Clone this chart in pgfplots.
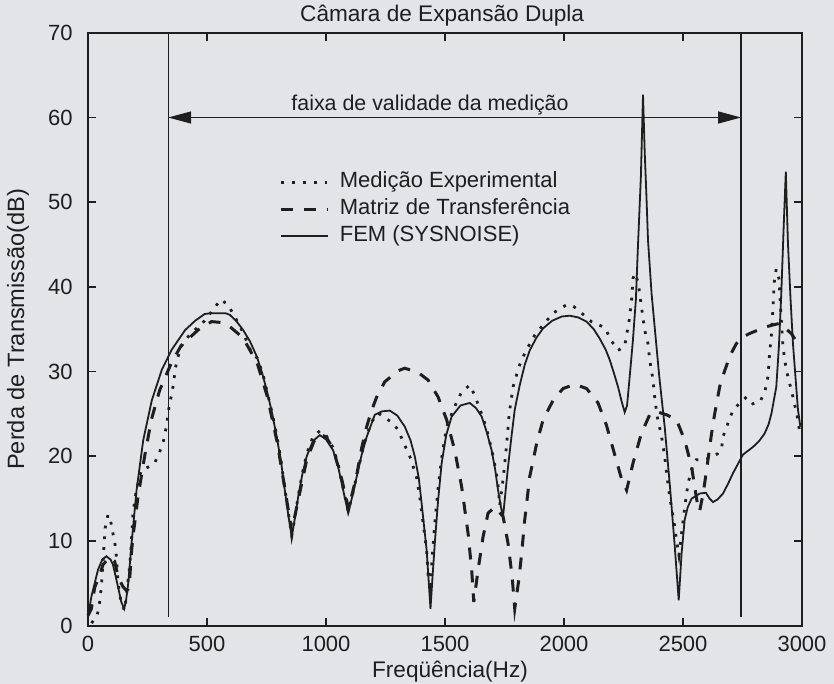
\documentclass[border=0pt]{standalone}
\usepackage{fontspec}
\setmainfont{Liberation Sans}
\usepackage{pgfplots}
\usepackage{pgfplotstable}
\pgfplotsset{compat=1.18}
\usetikzlibrary{arrows.meta}
\definecolor{bg}{RGB}{226,228,232}
\definecolor{ink}{RGB}{30,30,30}

\pgfplotstableread{
f tl
15 0.3
25 0.7
36 1.0
46 2.1
56 4.5
64 8.0
72 11.5
84 13.1
95 12.4
104 11.0
112 10.0
120 8.0
126 5.0
140 2.6
154 1.8
165 4.5
175 7.0
182 9.7
189 13.3
203 16.0
224 18.4
245 18.6
280 19.2
301 20.5
318 21.9
329 23.5
343 26.3
353 27.4
361 29.0
367 30.4
385 32.5
406 33.7
448 34.9
490 36.0
525 37.3
558 38.5
588 37.9
620 36.3
652 34.6
687 32.2
711 31.6
735 29.7
751 27.8
772 25.3
793 22.5
812 19.3
827 16.2
842 13.3
856 10.6
870 12.9
883 15.3
900 17.9
919 20.3
945 22.3
974 23.0
1000 22.5
1030 21.0
1050 19.2
1066 17.0
1080 15.2
1093 13.5
1110 15.3
1129 17.7
1150 20.3
1171 22.5
1195 24.2
1219 25.1
1261 24.3
1282 23.9
1303 23.1
1331 21.3
1352 20.0
1380 17.6
1394 15.2
1408 12.1
1423 8.9
1430 5.5
1437 4.8
1445 7.5
1457 12.1
1472 16.5
1486 19.8
1507 23.5
1541 25.9
1570 27.6
1604 28.4
1625 27.2
1654 25.0
1675 23.2
1696 20.8
1713 18.5
1723 16.5
1730 14.2
1745 17.5
1758 21.1
1770 25.1
1786 28.2
1810 30.5
1822 31.4
1849 32.9
1877 34.3
1912 35.5
1954 36.9
2011 37.9
2040 37.7
2066 37.1
2115 35.9
2171 35.2
2200 33.6
2227 32.5
2255 33.0
2274 36.1
2284 38.5
2290 41.0
2297 41.6
2311 40.6
2318 39.2
2332 36.3
2339 34.9
2353 33.3
2360 31.4
2374 29.0
2381 27.0
2391 24.8
2401 23.5
2410 22.3
2423 20.0
2433 17.6
2444 15.2
2456 13.3
2465 11.7
2475 9.7
2483 8.3
2494 10.9
2507 13.9
2521 16.8
2540 18.8
2556 19.6
2584 19.6
2620 19.8
2645 20.3
2662 20.9
2668 22.3
2689 23.9
2708 25.3
2738 26.3
2767 27.0
2794 26.2
2822 26.4
2843 27.5
2857 29.4
2864 32.2
2872 34.5
2876 36.5
2881 39.2
2885 41.2
2892 42.1
2903 41.0
2906 39.6
2913 36.1
2920 32.9
2934 30.2
2948 28.6
2962 27.0
2974 25.5
2983 24.3
2990 22.9
}\medicao

\pgfplotstableread{
f tl
0 1.2
14 2.0
28 4.5
49 6.0
63 7.2
91 8.1
112 7.6
126 5.8
147 4.6
160 4.2
168 4.3
175 5.4
182 8.5
189 10.5
210 15.2
238 20.0
266 24.3
301 27.8
350 31.0
392 33.1
462 34.9
519 35.9
560 35.8
588 35.5
630 34.5
655 33.8
711 31.0
754 27.0
796 21.5
831 15.5
856 11.2
883 14.8
919 19.6
950 21.8
974 22.6
1000 22.3
1030 20.9
1066 17.3
1095 13.8
1129 17.8
1150 21.0
1171 23.5
1190 25.3
1213 27.0
1247 28.8
1303 30.1
1331 30.4
1387 29.9
1429 29.0
1471 27.0
1507 24.3
1541 20.7
1570 16.4
1597 10.9
1612 6.6
1621 2.8
1639 6.6
1660 10.5
1681 13.3
1709 14.0
1744 12.9
1765 9.7
1782 5.8
1793 2.0
1810 5.4
1822 8.5
1835 12.5
1856 17.6
1885 21.5
1912 24.3
1954 26.6
1996 28.0
2045 28.5
2095 28.0
2143 26.3
2178 23.7
2213 20.2
2241 17.4
2263 16.0
2290 19.2
2325 22.7
2360 24.9
2386 25.3
2431 24.9
2473 24.3
2507 21.9
2536 18.8
2549 16.4
2563 14.0
2570 13.5
2587 16.0
2605 19.6
2620 22.7
2633 25.0
2654 28.2
2668 29.5
2696 31.8
2724 33.3
2752 34.1
2780 34.5
2850 35.3
2906 35.7
2955 34.5
2983 33.3
2995 33.0
}\matriz

\pgfplotstableread{
f tl
0 1.0
14 3.4
42 6.6
60 7.8
77 8.2
95 7.8
105 7.2
118 5.6
126 4.6
140 2.8
152 2.0
160 3.0
169 5.0
183 9.7
204 16.0
232 21.9
268 26.6
310 30.2
352 32.6
408 34.9
450 36.0
490 36.8
520 36.9
577 36.9
596 36.7
625 35.9
652 34.9
680 33.6
709 31.8
732 29.8
751 27.8
772 25.3
793 22.3
812 19.2
827 16.0
842 13.0
856 10.5
870 12.8
883 15.2
900 17.8
919 20.0
945 21.8
974 22.5
1000 22.0
1030 20.7
1050 18.9
1066 16.8
1080 15.0
1093 13.3
1110 15.2
1129 17.6
1150 20.2
1171 22.3
1205 24.9
1235 25.3
1268 25.4
1300 24.8
1331 23.5
1355 21.9
1373 20.0
1390 17.4
1402 14.4
1413 11.5
1423 8.9
1432 5.0
1439 2.0
1447 5.5
1457 9.7
1471 14.8
1486 19.2
1505 22.5
1528 24.7
1565 26.0
1604 26.3
1630 25.7
1654 24.7
1676 22.8
1696 20.7
1711 18.4
1723 16.0
1735 14.0
1744 12.9
1755 16.0
1765 18.8
1780 22.5
1793 25.5
1814 28.4
1835 30.8
1856 32.5
1884 34.0
1912 35.1
1950 36.0
1990 36.5
2024 36.6
2060 36.4
2095 35.9
2125 35.0
2150 33.9
2175 32.6
2192 31.4
2210 29.8
2227 28.2
2242 26.5
2255 25.2
2265 26.0
2276 29.4
2289 33.5
2302 38.5
2311 45.0
2323 53.0
2332 62.7
2339 56.0
2346 51.0
2353 45.5
2368 39.2
2400 29.5
2423 23.5
2445 16.5
2465 9.5
2482 3.0
2494 8.5
2507 12.5
2520 14.0
2536 15.0
2570 15.6
2596 15.7
2612 15.0
2626 14.6
2645 14.9
2668 15.6
2690 16.8
2710 18.0
2752 20.2
2794 21.1
2820 21.8
2843 22.7
2860 23.8
2872 25.1
2892 28.2
2903 33.0
2913 39.2
2923 47.1
2932 53.6
2941 45.1
2952 38.5
2962 33.3
2983 25.5
2993 23.5
}\fem

\newcommand{\txt}{\fontsize{11}{13}\selectfont}

\begin{document}
\begin{tikzpicture}
\useasboundingbox (-44pt,-29.15pt) rectangle (373pt,312.85pt);
\fill[bg] (-44pt,-29.15pt) rectangle (373pt,312.85pt);
\begin{axis}[
  at={(0pt,0pt)}, anchor=south west,
  scale only axis, width=357pt, height=296.45pt,
  xmin=0, xmax=3000, ymin=0, ymax=70,
  clip=false,
  xtick={0,500,...,3000}, ytick={0,10,...,70},
  /pgf/number format/assume math mode=true,
  /pgf/number format/1000 sep={},
  tick align=inside, major tick length=4pt,
  tick style={ink, line width=0.8pt},
  axis line style={ink, line width=0.9pt},
  every tick label/.append style={font=\txt, text=ink},
  xticklabel style={anchor=base, inner sep=0pt, yshift=-13pt},
  yticklabel style={anchor=east, inner sep=0pt, xshift=-7.5pt},
  xlabel={Freqüência(Hz)},
  xlabel style={at={(axis description cs:0.507,-0.0877)}, anchor=base, font=\fontsize{11.3}{13}\selectfont, text=ink},
  ylabel={Perda de Transmissão(dB)},
  ylabel style={at={(axis description cs:-0.0896,0.5)}, anchor=base, font=\fontsize{11.8}{14}\selectfont, text=ink},
  legend style={draw=none, fill=none, at={(axis description cs:0.2687,0.7707)}, anchor=north west,
    inner sep=0pt, outer sep=0pt, row sep=0pt, column sep=3.5pt, font=\txt, text=ink,
    nodes={inner sep=1.5pt, text height=8pt, text depth=2.5pt}},
  legend cell align=left,
  legend image code/.code={\draw[#1] (0pt,0pt) -- (23.5pt,0pt);},
]
\addplot[ink, line width=1.4pt, dash pattern=on 1.4pt off 4pt] table[x=f,y=tl] {\medicao};
\addlegendentry{Medição Experimental}
\addplot[ink, line width=1.5pt, dash pattern=on 6pt off 5.5pt] table[x=f,y=tl] {\matriz};
\addlegendentry{Matriz de Transferência}
\addplot[ink, line width=0.9pt] table[x=f,y=tl] {\fem};
\addlegendentry{FEM (SYSNOISE)}
% validity range
\addplot[ink, line width=0.7pt, forget plot] coordinates {(337,1) (337,70)};
\addplot[ink, line width=0.7pt, forget plot] coordinates {(2744,1) (2744,70)};
\addplot[ink, line width=0.7pt, forget plot, {Triangle[length=11.5pt,width=6pt]}-{Triangle[length=11.5pt,width=6pt]}] coordinates {(337,60) (2744,60)};
\node[anchor=base, font=\fontsize{10.7}{13}\selectfont, text=ink] at (axis cs:1437,60.8) {faixa de validade da medição};
\node[anchor=base, font=\fontsize{11.3}{13}\selectfont, text=ink, yshift=5.5pt] at (axis description cs:0.496,1) {Câmara de Expansão Dupla};
\end{axis}
\end{tikzpicture}
\end{document}
